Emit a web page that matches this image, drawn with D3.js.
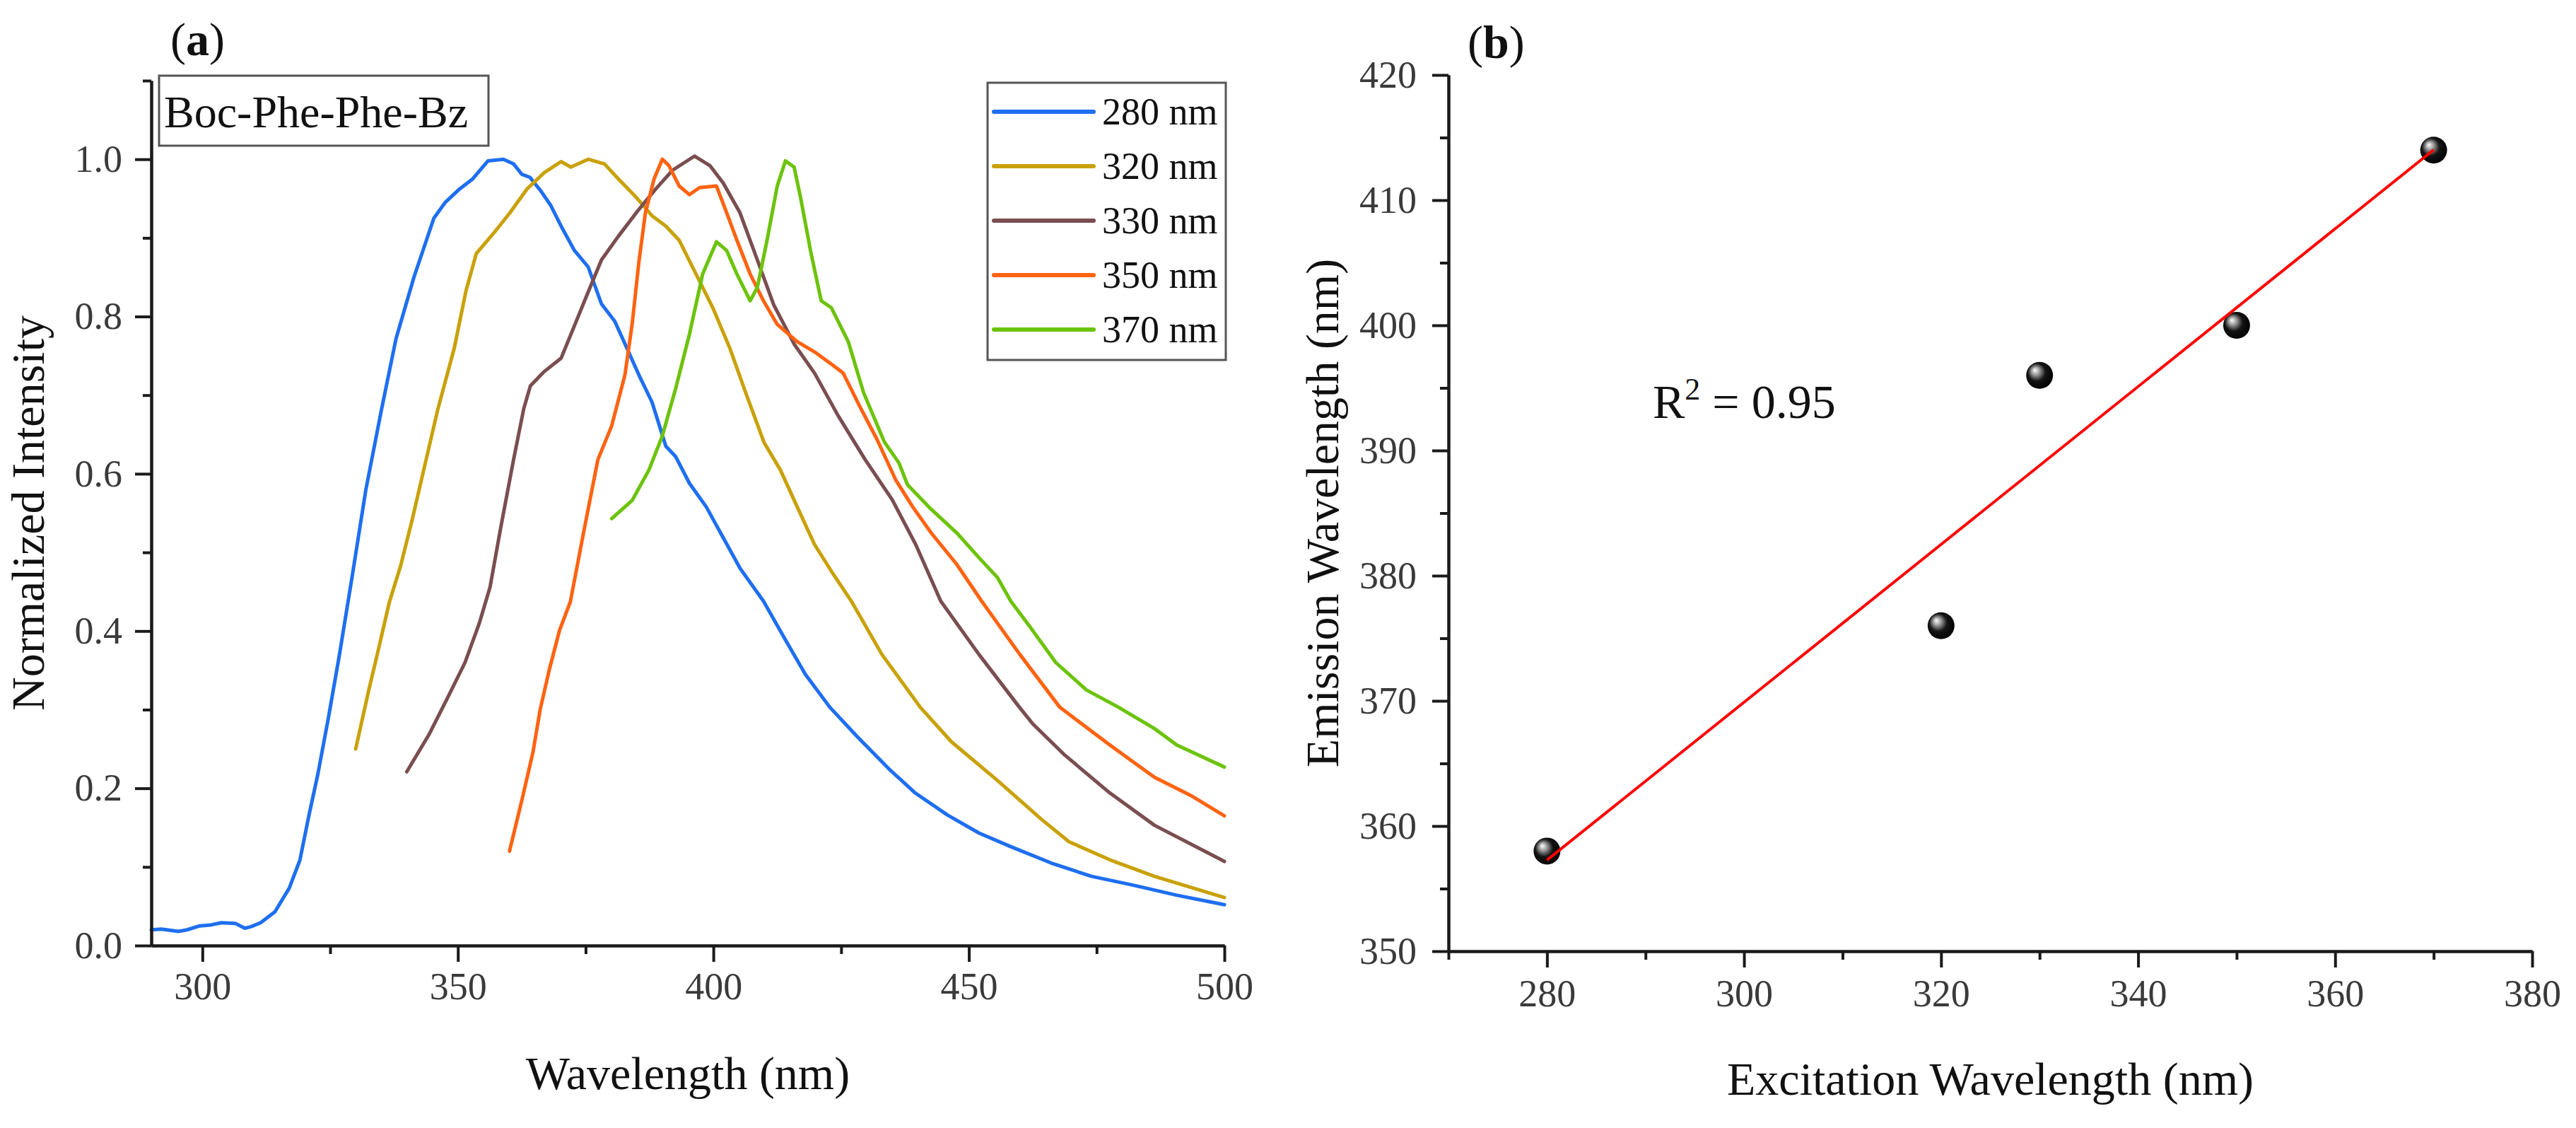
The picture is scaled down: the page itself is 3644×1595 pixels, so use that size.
<!DOCTYPE html>
<html>
<head>
<meta charset="utf-8">
<script src="https://cdn.jsdelivr.net/npm/d3@7"></script>
<style>
  body { margin: 0; background: #fff; }
  text { font-family: "Liberation Serif", "Times New Roman", serif; }
</style>
</head>
<body>
<div id="chart"></div>
<script>
// ---- panel (a): emission spectra, [wavelength (nm), normalized intensity] ----
const ex280 = [[290,0.020],[292,0.021],[295.3,0.018],[297,0.020],[299.5,0.025],[301.5,0.026],[303.7,0.029],[306.5,0.028],[308.3,0.022],[309.5,0.024],[311.4,0.029],[314.2,0.043],[317,0.073],[319.1,0.109],[320.8,0.164],[322.6,0.218],[324.7,0.291],[326.8,0.369],[329.3,0.469],[332,0.58],[335,0.68],[337.9,0.772],[341.4,0.850],[345.3,0.925],[347.5,0.945],[350.3,0.962],[352.9,0.975],[355.9,0.998],[358.9,1.0],[360.9,0.994],[362.5,0.981],[364.1,0.977],[366.2,0.960],[368.2,0.941],[370.2,0.915],[372.8,0.884],[375.5,0.863],[378.1,0.816],[380.7,0.794],[383.4,0.755],[385.4,0.726],[388,0.691],[390.7,0.635],[392.6,0.622],[395.3,0.588],[398.6,0.558],[401.9,0.519],[405.2,0.480],[409.8,0.438],[414,0.39],[418,0.345],[422.8,0.303],[428.1,0.266],[434.3,0.225],[439.5,0.194],[445.8,0.166],[452,0.143],[458.1,0.126],[466.1,0.105],[474,0.088],[482,0.077],[490.7,0.064],[500,0.052]];
const ex320 = [[330,0.250],[332.5,0.323],[334.5,0.378],[336.6,0.437],[338.8,0.483],[341,0.54],[343.5,0.61],[346,0.68],[349.3,0.76],[351.6,0.833],[353.6,0.880],[357,0.906],[360.2,0.932],[363.5,0.962],[366.9,0.983],[370.2,0.997],[372.1,0.990],[375.5,1.0],[378.7,0.994],[381.4,0.975],[384.7,0.953],[388,0.928],[390.7,0.915],[393.3,0.897],[396.6,0.854],[399.9,0.811],[403.2,0.760],[406.5,0.700],[409.9,0.640],[413.1,0.605],[416.4,0.558],[419.8,0.510],[423.1,0.476],[427,0.438],[433,0.37],[440.5,0.303],[446.6,0.259],[455.4,0.211],[464.3,0.160],[469.6,0.132],[477.6,0.109],[486.3,0.088],[500,0.061]];
const ex330 = [[340,0.221],[344.4,0.269],[347.9,0.314],[351.4,0.360],[354.2,0.410],[356.3,0.456],[358.4,0.532],[360.9,0.618],[362.9,0.683],[364.2,0.712],[366.9,0.730],[370.2,0.747],[372.1,0.777],[374.8,0.820],[378.1,0.872],[381.4,0.902],[385.4,0.936],[388.7,0.962],[392,0.986],[396.3,1.004],[399.3,0.992],[401.9,0.970],[405.2,0.932],[408.6,0.872],[411.8,0.815],[415.8,0.765],[419.8,0.728],[424.4,0.674],[429.7,0.618],[435,0.567],[439.6,0.510],[444.5,0.438],[452,0.37],[459.9,0.303],[462.5,0.282],[468.8,0.242],[477.6,0.194],[486.3,0.153],[500,0.107]];
const ex350 = [[360.1,0.120],[362.6,0.187],[364.7,0.246],[366.1,0.300],[367.9,0.351],[369.9,0.401],[372,0.437],[374.8,0.532],[377.4,0.618],[380.1,0.661],[382.7,0.726],[384.1,0.790],[385.4,0.868],[386.7,0.932],[388.4,0.975],[390,1.0],[391.3,0.992],[393.3,0.966],[395.3,0.955],[397.3,0.964],[400.6,0.966],[402.6,0.932],[404.6,0.897],[407.2,0.854],[409.8,0.820],[412.5,0.790],[416.4,0.768],[419.8,0.755],[423.4,0.738],[425.4,0.728],[428.7,0.685],[432,0.644],[435.7,0.592],[439,0.558],[442.6,0.525],[447.6,0.485],[452.5,0.438],[460,0.37],[467.8,0.303],[477.6,0.255],[486.3,0.214],[493.4,0.191],[500,0.165]];
const ex370 = [[380.1,0.543],[384.1,0.566],[387.4,0.605],[390,0.648],[392.6,0.708],[395.3,0.777],[397.9,0.854],[400.6,0.895],[402.6,0.884],[404.6,0.854],[407.2,0.820],[408.6,0.837],[410.5,0.897],[412.5,0.966],[414.1,0.998],[415.8,0.990],[417.1,0.950],[419,0.884],[421.1,0.820],[423.1,0.811],[426.4,0.768],[429.4,0.703],[433.5,0.640],[436.3,0.614],[438,0.586],[442.6,0.555],[447.6,0.525],[452.3,0.491],[455.6,0.468],[458.2,0.438],[462,0.405],[467,0.36],[473,0.325],[479.3,0.303],[486.3,0.276],[490.7,0.255],[500,0.227]];

const spectra = [ex280, ex320, ex330, ex350, ex370];
const seriesLabels = ["280 nm", "320 nm", "330 nm", "350 nm", "370 nm"];
const seriesColors = ["#1e6ff0", "#c9a10a", "#7a4e50", "#ff6312", "#6cc30c"];

const xTicksA = [300, 350, 400, 450, 500];
const xMinorA = [325, 375, 425, 475];
const yTicksA = [0, 0.2, 0.4, 0.6, 0.8, 1.0];
const yMinorA = [0.1, 0.3, 0.5, 0.7, 0.9, 1.1];

// ---- panel (b): emission maximum vs excitation wavelength ----
const excitation = [280, 320, 330, 350, 370];
const emission   = [358, 376, 396, 400, 414];

const xTicksB = [280, 300, 320, 340, 360, 380];
const xMinorB = [270, 290, 310, 330, 350, 370];
const yTicksB = [350, 360, 370, 380, 390, 400, 410, 420];
const yMinorB = [355, 365, 375, 385, 395, 405, 415];

// ---- layout ----
const W = 3644, H = 1595;
const A = {left: 214, right: 1732, top: 114, bottom: 1337};
const B = {left: 2049, right: 3582, top: 106, bottom: 1345};
const tickFont = 54, titleFont = 66;

const svg = d3.select("#chart").append("svg")
    .attr("width", W).attr("height", H)
    .style("display", "block");

// sphere marker gradient
const defs = svg.append("defs");
const grad = defs.append("radialGradient")
    .attr("id", "ball").attr("cx", "45%").attr("cy", "45%").attr("r", "60%")
    .attr("fx", "32%").attr("fy", "30%");
grad.append("stop").attr("offset", "0%").attr("stop-color", "#ffffff");
grad.append("stop").attr("offset", "22%").attr("stop-color", "#a8a8a8");
grad.append("stop").attr("offset", "55%").attr("stop-color", "#141414");
grad.append("stop").attr("offset", "100%").attr("stop-color", "#000000");

function styleAxis(g, pad) {
    g.select(".domain").attr("stroke", "#1a1a1a").attr("stroke-width", 4);
    g.selectAll(".tick line").attr("stroke", "#1a1a1a").attr("stroke-width", 4);
    g.selectAll(".tick text")
        .attr("font-size", tickFont)
        .attr("fill", "#3a3a3a")
        .style("font-family", '"Liberation Serif", "Times New Roman", serif');
}

function drawAxes(box, x, y, xt, xm, yt, ym, xfmt, yfmt, padX, padY) {
    // minor ticks first, unlabeled
    svg.append("g")
        .attr("transform", "translate(0," + box.bottom + ")")
        .call(d3.axisBottom(x).tickValues(xm).tickSize(12).tickSizeOuter(0).tickFormat(""))
        .call(styleAxis);
    svg.append("g")
        .attr("transform", "translate(" + box.left + ",0)")
        .call(d3.axisLeft(y).tickValues(ym).tickSize(12).tickSizeOuter(0).tickFormat(""))
        .call(styleAxis);
    // major ticks with labels
    svg.append("g")
        .attr("transform", "translate(0," + box.bottom + ")")
        .call(d3.axisBottom(x).tickValues(xt).tickSize(23).tickPadding(padX).tickSizeOuter(0).tickFormat(xfmt))
        .call(styleAxis);
    svg.append("g")
        .attr("transform", "translate(" + box.left + ",0)")
        .call(d3.axisLeft(y).tickValues(yt).tickSize(23).tickPadding(padY).tickSizeOuter(0).tickFormat(yfmt))
        .call(styleAxis);
}

function panelTag(x, y, letter) {
    const t = svg.append("text").attr("x", x).attr("y", y)
        .attr("font-size", titleFont).attr("fill", "#111");
    t.append("tspan").text("(");
    t.append("tspan").attr("font-weight", "bold").text(letter);
    t.append("tspan").text(")");
}

// ================= panel (a) =================
const xA = d3.scaleLinear().domain([290, 500]).range([A.left, A.right]);
const yA = d3.scaleLinear().domain([0, 1.1]).range([A.bottom, A.top]);

const lineA = d3.line()
    .x(d => xA(d[0]))
    .y(d => yA(d[1]));

svg.append("g").selectAll("path")
    .data(spectra)
    .join("path")
    .attr("d", lineA)
    .attr("fill", "none")
    .attr("stroke", (d, i) => seriesColors[i])
    .attr("stroke-width", 5)
    .attr("stroke-linejoin", "round")
    .attr("stroke-linecap", "round");

drawAxes(A, xA, yA, xTicksA, xMinorA, yTicksA, yMinorA, d3.format("d"), d3.format(".1f"), 15, 18);

// sample name box
const tagBox = svg.append("g");
tagBox.append("rect")
    .attr("x", A.left + 11).attr("y", A.top - 7)
    .attr("width", 466).attr("height", 99)
    .attr("fill", "#fff").attr("stroke", "#555").attr("stroke-width", 3);
tagBox.append("text")
    .attr("x", A.left + 18).attr("y", A.top + 66)
    .attr("font-size", 64).attr("fill", "#111")
    .text("Boc-Phe-Phe-Bz");

// legend
const legend = svg.append("g");
const legX = A.right - 335, legY = A.top + 3, rowH = 77;
legend.append("rect")
    .attr("x", legX).attr("y", legY)
    .attr("width", 337).attr("height", 392)
    .attr("fill", "#fff").attr("stroke", "#555").attr("stroke-width", 3);
const legRows = legend.selectAll("g.row")
    .data(seriesLabels)
    .join("g").attr("class", "row")
    .attr("transform", (d, i) => "translate(" + legX + "," + (legY + 41 + i * rowH) + ")");
legRows.append("line")
    .attr("x1", 9).attr("x2", 150)
    .attr("stroke", (d, i) => seriesColors[i])
    .attr("stroke-width", 6).attr("stroke-linecap", "round");
legRows.append("text")
    .attr("x", 162).attr("dy", "0.33em")
    .attr("font-size", 54).attr("fill", "#111")
    .text(d => d);

// titles
svg.append("text")
    .attr("x", (A.left + A.right) / 2).attr("y", 1540)
    .attr("text-anchor", "middle").attr("font-size", titleFont).attr("fill", "#111")
    .text("Wavelength (nm)");
svg.append("text")
    .attr("transform", "translate(62," + ((A.top + A.bottom) / 2) + ") rotate(-90)")
    .attr("text-anchor", "middle").attr("font-size", titleFont).attr("fill", "#111")
    .text("Normalized Intensity");
panelTag(241, 78, "a");

// ================= panel (b) =================
const xB = d3.scaleLinear().domain([270, 380]).range([B.left, B.right]);
const yB = d3.scaleLinear().domain([350, 420]).range([B.bottom, B.top]);

drawAxes(B, xB, yB, xTicksB, xMinorB, yTicksB, yMinorB, d3.format("d"), d3.format("d"), 17, 22);

// least squares fit of the points
const points = excitation.map((e, i) => [e, emission[i]]);
const mx = d3.mean(excitation), my = d3.mean(emission);
const sxy = d3.sum(points, p => (p[0] - mx) * (p[1] - my));
const sxx = d3.sum(points, p => (p[0] - mx) ** 2);
const syy = d3.sum(points, p => (p[1] - my) ** 2);
const slope = sxy / sxx, icpt = my - slope * mx;
const r2 = (sxy * sxy) / (sxx * syy);
const fitEnds = d3.extent(excitation).map(e => [e, icpt + slope * e]);

svg.append("g").selectAll("circle")
    .data(points)
    .join("circle")
    .attr("cx", d => xB(d[0]))
    .attr("cy", d => yB(d[1]))
    .attr("r", 19)
    .attr("fill", "url(#ball)");

svg.append("path")
    .datum(fitEnds)
    .attr("d", d3.line().x(d => xB(d[0])).y(d => yB(d[1])))
    .attr("fill", "none")
    .attr("stroke", "#ff0000")
    .attr("stroke-width", 4);

const r2Text = svg.append("text")
    .attr("x", 2338).attr("y", 591)
    .attr("font-size", 68).attr("fill", "#111");
r2Text.append("tspan").text("R");
r2Text.append("tspan").attr("font-size", 44).attr("dy", -26).text("2");
r2Text.append("tspan").attr("dy", 26).text(" = " + d3.format(".2f")(r2));

svg.append("text")
    .attr("x", (B.left + B.right) / 2).attr("y", 1548)
    .attr("text-anchor", "middle").attr("font-size", titleFont).attr("fill", "#111")
    .text("Excitation Wavelength (nm)");
svg.append("text")
    .attr("transform", "translate(1893," + ((B.top + B.bottom) / 2) + ") rotate(-90)")
    .attr("text-anchor", "middle").attr("font-size", titleFont).attr("fill", "#111")
    .text("Emission Wavelength (nm)");
panelTag(2076, 82, "b");
</script>
</body>
</html>
